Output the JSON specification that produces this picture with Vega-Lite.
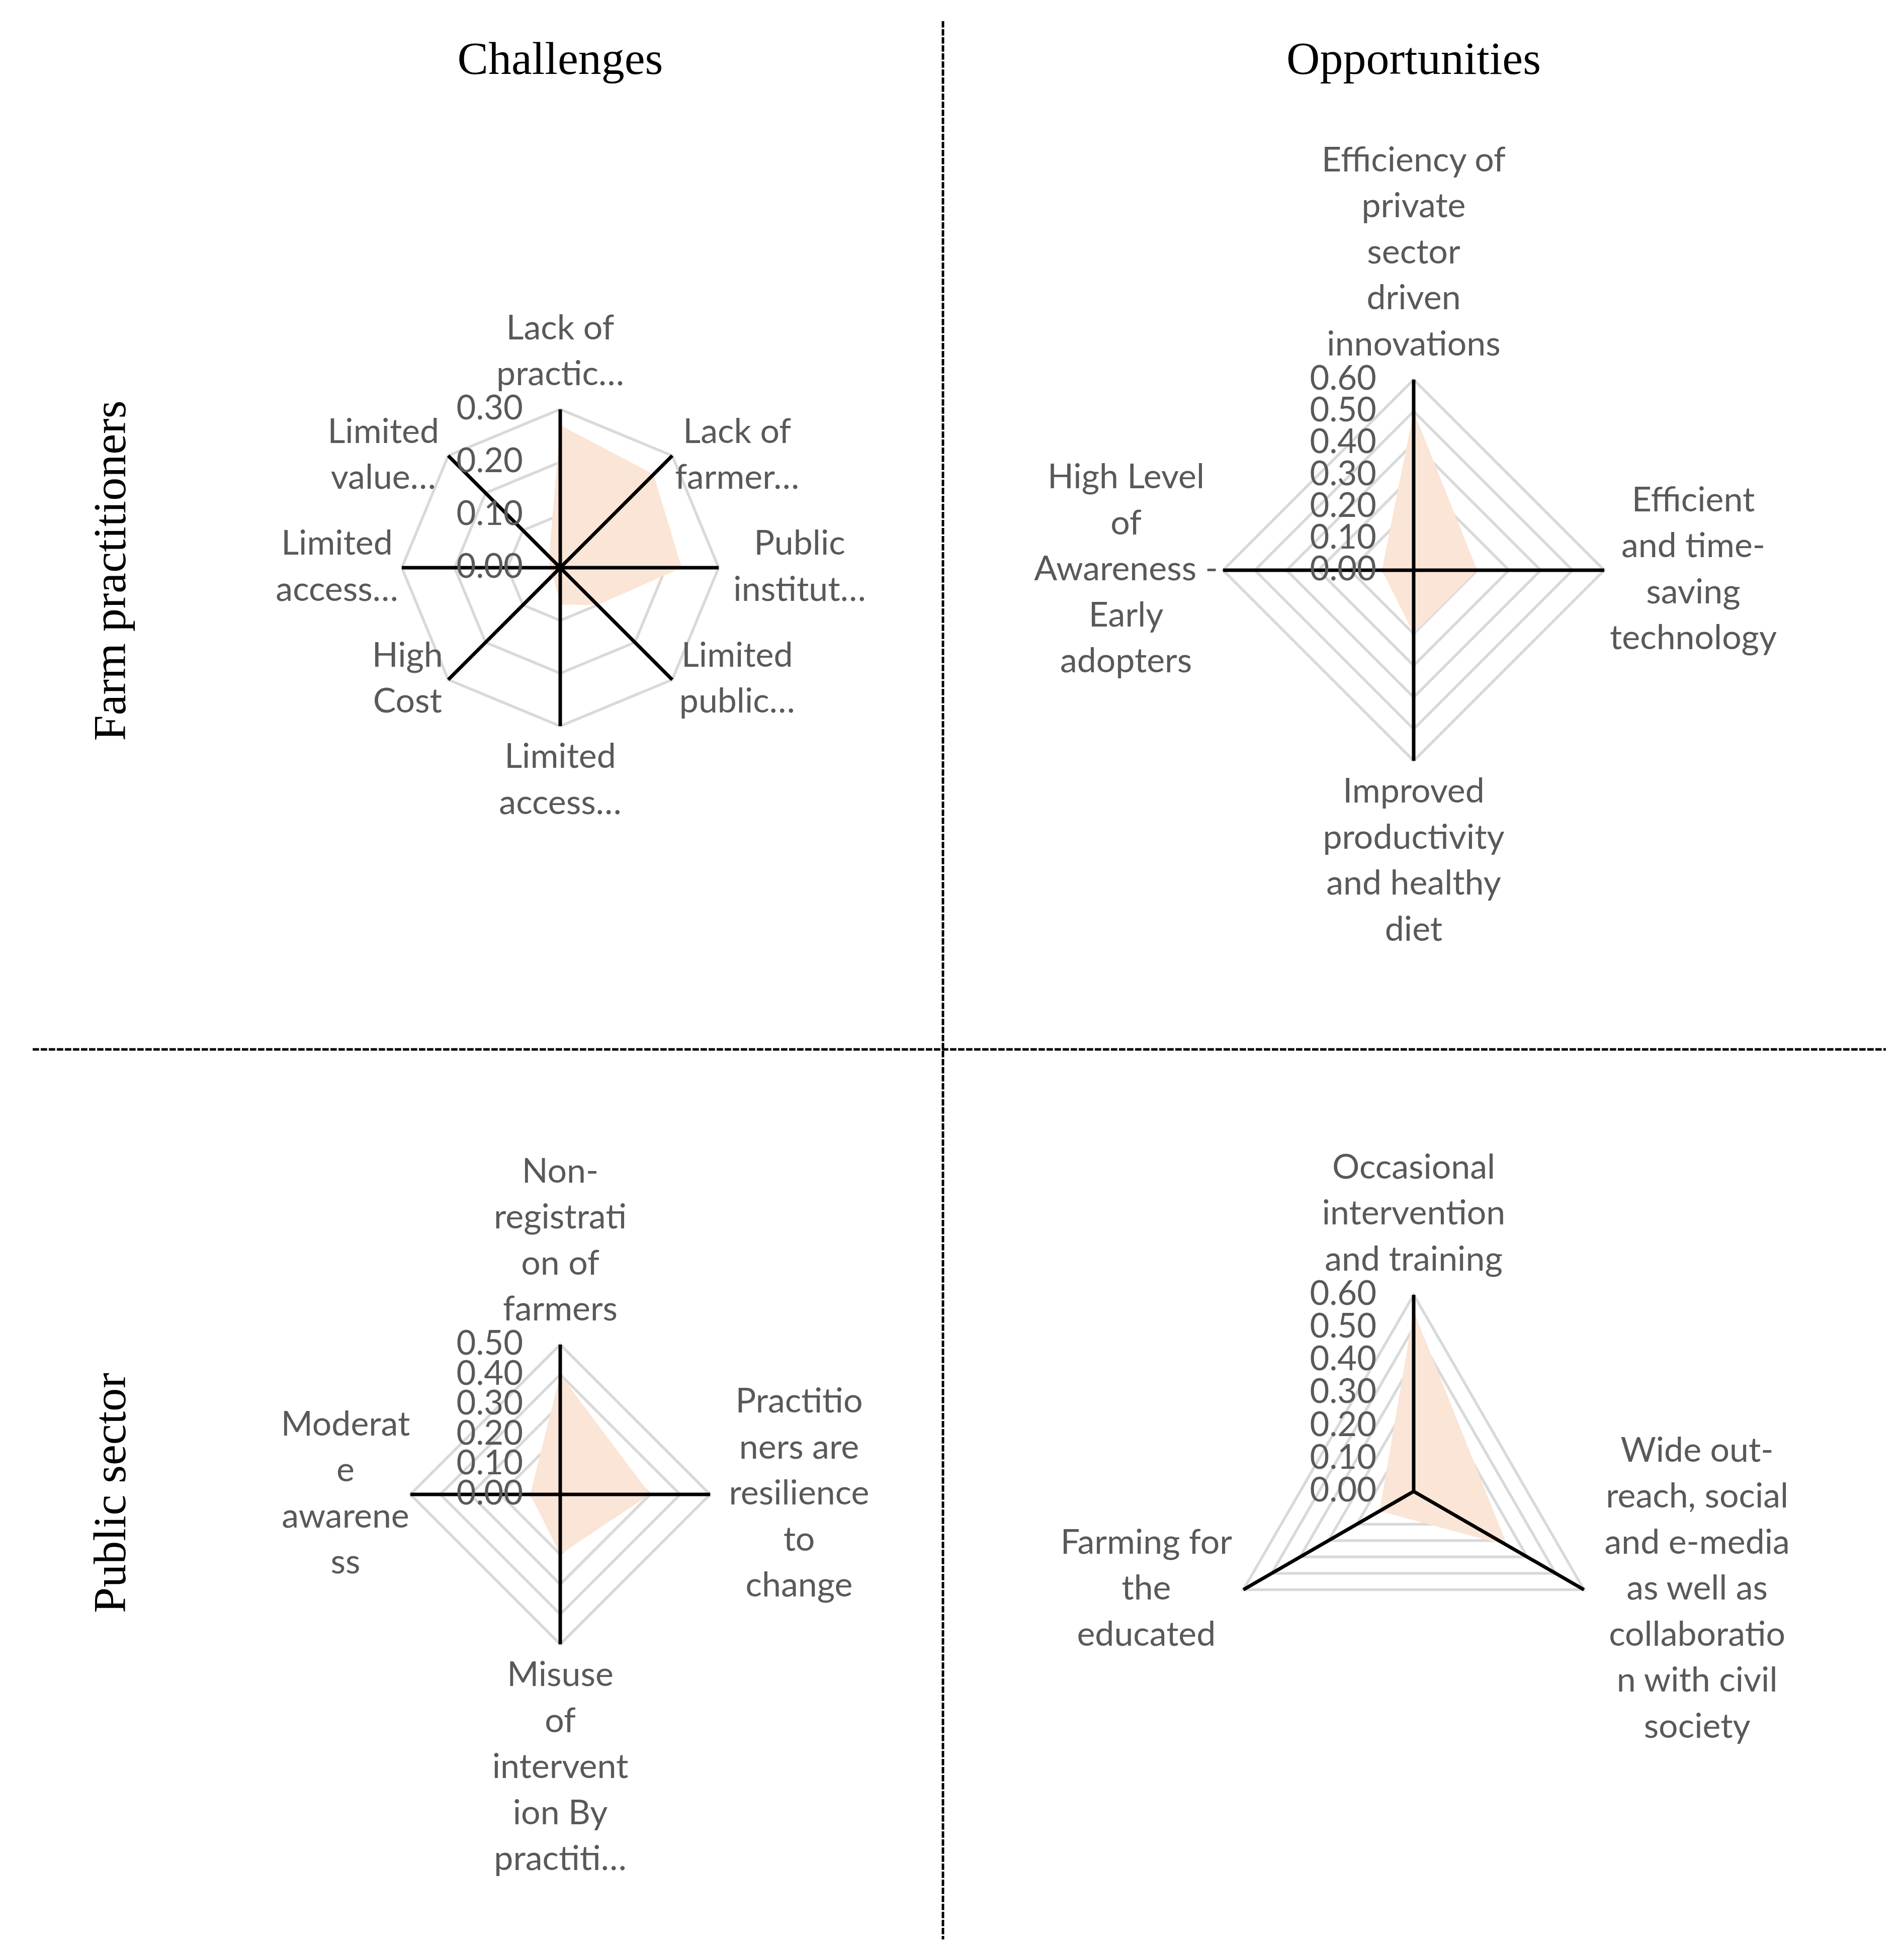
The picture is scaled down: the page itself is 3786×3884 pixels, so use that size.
{
  "$schema": "https://vega.github.io/schema/vega-lite/v6.json",
  "width": 3786,
  "height": 3884,
  "padding": 0,
  "autosize": {"type": "none"},
  "background": "white",
  "config": {
    "view": {"stroke": null},
    "axis": {"disable": true},
    "text": {"font": "Lato", "fontSize": 68, "color": "#595959"}
  },
  "datasets": {
    "tl": [
      {"idx": 0, "label": ["Lack of", "practic…"], "value": 0.27},
      {"idx": 1, "label": ["Lack of", "farmer…"], "value": 0.25},
      {"idx": 2, "label": ["Public", "institut…"], "value": 0.23},
      {"idx": 3, "label": ["Limited", "public…"], "value": 0.10},
      {"idx": 4, "label": ["Limited", "access…"], "value": 0.07},
      {"idx": 5, "label": ["High", "Cost"], "value": 0.02},
      {"idx": 6, "label": ["Limited", "access…"], "value": 0.02},
      {"idx": 7, "label": ["Limited", "value…"], "value": 0.03}
    ],
    "tl_grid": [
      {"level": 0.1, "idx": [0, 1, 2, 3, 4, 5, 6, 7]},
      {"level": 0.2, "idx": [0, 1, 2, 3, 4, 5, 6, 7]},
      {"level": 0.3, "idx": [0, 1, 2, 3, 4, 5, 6, 7]}
    ],
    "tl_ticks": [{"level": 0}, {"level": 0.1}, {"level": 0.2}, {"level": 0.3}],
    "tr": [
      {"idx": 0, "label": ["Efficiency of", "private", "sector", "driven", "innovations"], "value": 0.50},
      {"idx": 1, "label": ["Efficient", "and time-", "saving", "technology"], "value": 0.20},
      {"idx": 2, "label": ["Improved", "productivity", "and healthy", "diet"], "value": 0.20},
      {"idx": 3, "label": ["High Level", "of", "Awareness -", "Early", "adopters"], "value": 0.10}
    ],
    "tr_grid": [
      {"level": 0.1, "idx": [0, 1, 2, 3]},
      {"level": 0.2, "idx": [0, 1, 2, 3]},
      {"level": 0.3, "idx": [0, 1, 2, 3]},
      {"level": 0.4, "idx": [0, 1, 2, 3]},
      {"level": 0.5, "idx": [0, 1, 2, 3]},
      {"level": 0.6, "idx": [0, 1, 2, 3]}
    ],
    "tr_ticks": [{"level": 0}, {"level": 0.1}, {"level": 0.2}, {"level": 0.3}, {"level": 0.4}, {"level": 0.5}, {"level": 0.6}],
    "bl": [
      {"idx": 0, "label": ["Non-", "registrati", "on of", "farmers"], "value": 0.40},
      {"idx": 1, "label": ["Practitio", "ners are", "resilience", "to", "change"], "value": 0.30},
      {"idx": 2, "label": ["Misuse", "of", "intervent", "ion By", "practiti…"], "value": 0.20},
      {"idx": 3, "label": ["Moderat", "e", "awarene", "ss"], "value": 0.10}
    ],
    "bl_grid": [
      {"level": 0.1, "idx": [0, 1, 2, 3]},
      {"level": 0.2, "idx": [0, 1, 2, 3]},
      {"level": 0.3, "idx": [0, 1, 2, 3]},
      {"level": 0.4, "idx": [0, 1, 2, 3]},
      {"level": 0.5, "idx": [0, 1, 2, 3]}
    ],
    "bl_ticks": [{"level": 0}, {"level": 0.1}, {"level": 0.2}, {"level": 0.3}, {"level": 0.4}, {"level": 0.5}],
    "br": [
      {"idx": 0, "label": ["Occasional", "intervention", "and training"], "value": 0.55},
      {"idx": 1, "label": ["Wide out-", "reach, social", "and e-media", "as well as", "collaboratio", "n with civil", "society"], "value": 0.33},
      {"idx": 2, "label": ["Farming for", "the", "educated"], "value": 0.12}
    ],
    "br_grid": [
      {"level": 0.1, "idx": [0, 1, 2]},
      {"level": 0.2, "idx": [0, 1, 2]},
      {"level": 0.3, "idx": [0, 1, 2]},
      {"level": 0.4, "idx": [0, 1, 2]},
      {"level": 0.5, "idx": [0, 1, 2]},
      {"level": 0.6, "idx": [0, 1, 2]}
    ],
    "br_ticks": [{"level": 0}, {"level": 0.1}, {"level": 0.2}, {"level": 0.3}, {"level": 0.4}, {"level": 0.5}, {"level": 0.6}]
  },
  "layer": [
    {
      "data": {"values": [{}]},
      "layer": [
        {
          "mark": {"type": "rule", "color": "black", "strokeWidth": 5, "strokeDash": [12.7, 3.3]},
          "encoding": {
            "x": {"datum": 0.49525, "type": "quantitative", "scale": {"domain": [0, 1], "nice": false, "zero": false}},
            "y": {"datum": 0.01081, "type": "quantitative", "scale": {"domain": [0, 1], "reverse": true, "nice": false, "zero": false}},
            "y2": {"datum": 0.99305}
          }
        },
        {
          "mark": {"type": "rule", "color": "black", "strokeWidth": 5, "strokeDash": [12.7, 3.3]},
          "encoding": {
            "x": {"datum": 0.01717, "type": "quantitative", "scale": {"domain": [0, 1], "nice": false, "zero": false}},
            "x2": {"datum": 0.99049},
            "y": {"datum": 0.53733, "type": "quantitative", "scale": {"domain": [0, 1], "reverse": true, "nice": false, "zero": false}}
          }
        },
        {
          "mark": {"type": "text", "text": "Challenges", "font": "Liberation Serif", "fontSize": 92, "color": "black", "align": "center", "baseline": "middle"},
          "encoding": {
            "x": {"datum": 0.29424, "type": "quantitative", "scale": {"domain": [0, 1], "nice": false, "zero": false}},
            "y": {"datum": 0.03074, "type": "quantitative", "scale": {"domain": [0, 1], "reverse": true, "nice": false, "zero": false}}
          }
        },
        {
          "mark": {"type": "text", "text": "Opportunities", "font": "Liberation Serif", "fontSize": 92, "color": "black", "align": "center", "baseline": "middle"},
          "encoding": {
            "x": {"datum": 0.74247, "type": "quantitative", "scale": {"domain": [0, 1], "nice": false, "zero": false}},
            "y": {"datum": 0.03074, "type": "quantitative", "scale": {"domain": [0, 1], "reverse": true, "nice": false, "zero": false}}
          }
        },
        {
          "mark": {"type": "text", "text": "Farm practitioners", "font": "Liberation Serif", "fontSize": 92, "color": "black", "align": "center", "baseline": "middle", "angle": 270},
          "encoding": {
            "x": {"datum": 0.05837, "type": "quantitative", "scale": {"domain": [0, 1], "nice": false, "zero": false}},
            "y": {"datum": 0.29222, "type": "quantitative", "scale": {"domain": [0, 1], "reverse": true, "nice": false, "zero": false}}
          }
        },
        {
          "mark": {"type": "text", "text": "Public sector", "font": "Liberation Serif", "fontSize": 92, "color": "black", "align": "center", "baseline": "middle", "angle": 270},
          "encoding": {
            "x": {"datum": 0.05837, "type": "quantitative", "scale": {"domain": [0, 1], "nice": false, "zero": false}},
            "y": {"datum": 0.76442, "type": "quantitative", "scale": {"domain": [0, 1], "reverse": true, "nice": false, "zero": false}}
          }
        }
      ]
    },
    {
      "encoding": {
        "x": {"field": "x", "type": "quantitative", "scale": {"domain": [-1.06095, 2.54476], "nice": false, "zero": false}},
        "y": {"field": "y", "type": "quantitative", "scale": {"domain": [-2.62381, 1.07524], "nice": false, "zero": false}}
      },
      "layer": [
        {
          "data": {"name": "tl_grid"},
          "transform": [
            {"calculate": "length(datum.idx)", "as": "n"},
            {"flatten": ["idx"]},
            {"calculate": "datum.level*sin(2*PI*datum.idx/datum.n)", "as": "x"},
            {"calculate": "datum.level*cos(2*PI*datum.idx/datum.n)", "as": "y"}
          ],
          "mark": {"type": "line", "interpolate": "linear-closed", "stroke": "#D9D9D9", "strokeWidth": 5.5},
          "encoding": {"detail": {"field": "level", "type": "nominal"}, "order": {"field": "idx", "type": "quantitative"}}
        },
        {
          "data": {"name": "tl"},
          "transform": [
            {"joinaggregate": [{"op": "count", "as": "n"}]},
            {"calculate": "datum.value*sin(2*PI*datum.idx/datum.n)", "as": "x"},
            {"calculate": "datum.value*cos(2*PI*datum.idx/datum.n)", "as": "y"}
          ],
          "mark": {"type": "line", "interpolate": "linear-closed", "fill": "#FBE5D6", "stroke": "#FBE5D6", "strokeWidth": 0},
          "encoding": {"order": {"field": "idx", "type": "quantitative"}}
        },
        {
          "data": {"name": "tl"},
          "transform": [
            {"joinaggregate": [{"op": "count", "as": "n"}]},
            {"calculate": "0.3*sin(2*PI*datum.idx/datum.n)", "as": "x"},
            {"calculate": "0.3*cos(2*PI*datum.idx/datum.n)", "as": "y"}
          ],
          "mark": {"type": "rule", "color": "black", "strokeWidth": 7},
          "encoding": {"x2": {"datum": 0}, "y2": {"datum": 0}}
        },
        {
          "data": {"name": "tl_ticks"},
          "transform": [{"calculate": "0", "as": "x"}, {"calculate": "datum.level", "as": "y"}],
          "mark": {"type": "text", "align": "right", "baseline": "middle", "dx": -74, "fontSize": 67},
          "encoding": {"text": {"field": "level", "type": "quantitative", "format": ".2f"}}
        },
        {
          "data": {"name": "tl"},
          "transform": [
            {"joinaggregate": [{"op": "count", "as": "n"}]},
            {"calculate": "sin(2*PI*datum.idx/datum.n)", "as": "s"},
            {"calculate": "cos(2*PI*datum.idx/datum.n)", "as": "c"},
            {"calculate": "length(datum.label)", "as": "nl"},
            {"calculate": "max(length(datum.label[0]||''),length(datum.label[1]||''),length(datum.label[2]||''),length(datum.label[3]||''),length(datum.label[4]||''),length(datum.label[5]||''),length(datum.label[6]||''))", "as": "mc"},
            {"calculate": "abs(datum.s) < 0.01 ? 0 : 0.3*datum.s + (datum.s > 0 ? 1 : -1)*(17 + datum.mc*16)/1050", "as": "x"},
            {"calculate": "abs(datum.s) < 0.01 ? (datum.c > 0 ? 0.3 + (68 + (datum.nl-1)*91.5)/1050 : -0.3 - 63/1050) : 0.3*datum.c + (datum.nl-1)*45.75/1050", "as": "y"}
          ],
          "mark": {"type": "text", "align": "center", "baseline": "middle", "lineHeight": 91.5},
          "encoding": {"text": {"field": "label", "type": "nominal"}}
        }
      ]
    },
    {
      "encoding": {
        "x": {"field": "x", "type": "quantitative", "scale": {"domain": [-4.45012, 1.54354], "nice": false, "zero": false}},
        "y": {"field": "y", "type": "quantitative", "scale": {"domain": [-4.35356, 1.79525], "nice": false, "zero": false}}
      },
      "layer": [
        {
          "data": {"name": "tr_grid"},
          "transform": [
            {"calculate": "length(datum.idx)", "as": "n"},
            {"flatten": ["idx"]},
            {"calculate": "datum.level*sin(2*PI*datum.idx/datum.n)", "as": "x"},
            {"calculate": "datum.level*cos(2*PI*datum.idx/datum.n)", "as": "y"}
          ],
          "mark": {"type": "line", "interpolate": "linear-closed", "stroke": "#D9D9D9", "strokeWidth": 5.5},
          "encoding": {"detail": {"field": "level", "type": "nominal"}, "order": {"field": "idx", "type": "quantitative"}}
        },
        {
          "data": {"name": "tr"},
          "transform": [
            {"joinaggregate": [{"op": "count", "as": "n"}]},
            {"calculate": "datum.value*sin(2*PI*datum.idx/datum.n)", "as": "x"},
            {"calculate": "datum.value*cos(2*PI*datum.idx/datum.n)", "as": "y"}
          ],
          "mark": {"type": "line", "interpolate": "linear-closed", "fill": "#FBE5D6", "stroke": "#FBE5D6", "strokeWidth": 0},
          "encoding": {"order": {"field": "idx", "type": "quantitative"}}
        },
        {
          "data": {"name": "tr"},
          "transform": [
            {"joinaggregate": [{"op": "count", "as": "n"}]},
            {"calculate": "0.6*sin(2*PI*datum.idx/datum.n)", "as": "x"},
            {"calculate": "0.6*cos(2*PI*datum.idx/datum.n)", "as": "y"}
          ],
          "mark": {"type": "rule", "color": "black", "strokeWidth": 7},
          "encoding": {"x2": {"datum": 0}, "y2": {"datum": 0}}
        },
        {
          "data": {"name": "tr_ticks"},
          "transform": [{"calculate": "0", "as": "x"}, {"calculate": "datum.level", "as": "y"}],
          "mark": {"type": "text", "align": "right", "baseline": "middle", "dx": -74, "fontSize": 67},
          "encoding": {"text": {"field": "level", "type": "quantitative", "format": ".2f"}}
        },
        {
          "data": {"name": "tr"},
          "transform": [
            {"joinaggregate": [{"op": "count", "as": "n"}]},
            {"calculate": "sin(2*PI*datum.idx/datum.n)", "as": "s"},
            {"calculate": "cos(2*PI*datum.idx/datum.n)", "as": "c"},
            {"calculate": "length(datum.label)", "as": "nl"},
            {"calculate": "max(length(datum.label[0]||''),length(datum.label[1]||''),length(datum.label[2]||''),length(datum.label[3]||''),length(datum.label[4]||''),length(datum.label[5]||''),length(datum.label[6]||''))", "as": "mc"},
            {"calculate": "abs(datum.s) < 0.01 ? 0 : 0.6*datum.s + (datum.s > 0 ? 1 : -1)*(17 + datum.mc*16)/631.667", "as": "x"},
            {"calculate": "abs(datum.s) < 0.01 ? (datum.c > 0 ? 0.6 + (68 + (datum.nl-1)*91.5)/631.667 : -0.6 - 63/631.667) : 0.6*datum.c + (datum.nl-1)*45.75/631.667", "as": "y"}
          ],
          "mark": {"type": "text", "align": "center", "baseline": "middle", "lineHeight": 91.5},
          "encoding": {"text": {"field": "label", "type": "nominal"}}
        }
      ]
    },
    {
      "encoding": {
        "x": {"field": "x", "type": "quantitative", "scale": {"domain": [-1.86913, 4.48322], "nice": false, "zero": false}},
        "y": {"field": "y", "type": "quantitative", "scale": {"domain": [-1.5302, 4.98658], "nice": false, "zero": false}}
      },
      "layer": [
        {
          "data": {"name": "bl_grid"},
          "transform": [
            {"calculate": "length(datum.idx)", "as": "n"},
            {"flatten": ["idx"]},
            {"calculate": "datum.level*sin(2*PI*datum.idx/datum.n)", "as": "x"},
            {"calculate": "datum.level*cos(2*PI*datum.idx/datum.n)", "as": "y"}
          ],
          "mark": {"type": "line", "interpolate": "linear-closed", "stroke": "#D9D9D9", "strokeWidth": 5.5},
          "encoding": {"detail": {"field": "level", "type": "nominal"}, "order": {"field": "idx", "type": "quantitative"}}
        },
        {
          "data": {"name": "bl"},
          "transform": [
            {"joinaggregate": [{"op": "count", "as": "n"}]},
            {"calculate": "datum.value*sin(2*PI*datum.idx/datum.n)", "as": "x"},
            {"calculate": "datum.value*cos(2*PI*datum.idx/datum.n)", "as": "y"}
          ],
          "mark": {"type": "line", "interpolate": "linear-closed", "fill": "#FBE5D6", "stroke": "#FBE5D6", "strokeWidth": 0},
          "encoding": {"order": {"field": "idx", "type": "quantitative"}}
        },
        {
          "data": {"name": "bl"},
          "transform": [
            {"joinaggregate": [{"op": "count", "as": "n"}]},
            {"calculate": "0.5*sin(2*PI*datum.idx/datum.n)", "as": "x"},
            {"calculate": "0.5*cos(2*PI*datum.idx/datum.n)", "as": "y"}
          ],
          "mark": {"type": "rule", "color": "black", "strokeWidth": 7},
          "encoding": {"x2": {"datum": 0}, "y2": {"datum": 0}}
        },
        {
          "data": {"name": "bl_ticks"},
          "transform": [{"calculate": "0", "as": "x"}, {"calculate": "datum.level", "as": "y"}],
          "mark": {"type": "text", "align": "right", "baseline": "middle", "dx": -74, "fontSize": 67},
          "encoding": {"text": {"field": "level", "type": "quantitative", "format": ".2f"}}
        },
        {
          "data": {"name": "bl"},
          "transform": [
            {"joinaggregate": [{"op": "count", "as": "n"}]},
            {"calculate": "sin(2*PI*datum.idx/datum.n)", "as": "s"},
            {"calculate": "cos(2*PI*datum.idx/datum.n)", "as": "c"},
            {"calculate": "length(datum.label)", "as": "nl"},
            {"calculate": "max(length(datum.label[0]||''),length(datum.label[1]||''),length(datum.label[2]||''),length(datum.label[3]||''),length(datum.label[4]||''),length(datum.label[5]||''),length(datum.label[6]||''))", "as": "mc"},
            {"calculate": "abs(datum.s) < 0.01 ? 0 : 0.5*datum.s + (datum.s > 0 ? 1 : -1)*(17 + datum.mc*16)/596", "as": "x"},
            {"calculate": "abs(datum.s) < 0.01 ? (datum.c > 0 ? 0.5 + (68 + (datum.nl-1)*91.5)/596 : -0.5 - 63/596) : 0.5*datum.c + (datum.nl-1)*45.75/596", "as": "y"}
          ],
          "mark": {"type": "text", "align": "center", "baseline": "middle", "lineHeight": 91.5},
          "encoding": {"text": {"field": "label", "type": "nominal"}}
        }
      ]
    },
    {
      "encoding": {
        "x": {"field": "x", "type": "quantitative", "scale": {"domain": [-4.31355, 1.49616], "nice": false, "zero": false}},
        "y": {"field": "y", "type": "quantitative", "scale": {"domain": [-1.4087, 4.55141], "nice": false, "zero": false}}
      },
      "layer": [
        {
          "data": {"name": "br_grid"},
          "transform": [
            {"calculate": "length(datum.idx)", "as": "n"},
            {"flatten": ["idx"]},
            {"calculate": "datum.level*sin(2*PI*datum.idx/datum.n)", "as": "x"},
            {"calculate": "datum.level*cos(2*PI*datum.idx/datum.n)", "as": "y"}
          ],
          "mark": {"type": "line", "interpolate": "linear-closed", "stroke": "#D9D9D9", "strokeWidth": 5.5},
          "encoding": {"detail": {"field": "level", "type": "nominal"}, "order": {"field": "idx", "type": "quantitative"}}
        },
        {
          "data": {"name": "br"},
          "transform": [
            {"joinaggregate": [{"op": "count", "as": "n"}]},
            {"calculate": "datum.value*sin(2*PI*datum.idx/datum.n)", "as": "x"},
            {"calculate": "datum.value*cos(2*PI*datum.idx/datum.n)", "as": "y"}
          ],
          "mark": {"type": "line", "interpolate": "linear-closed", "fill": "#FBE5D6", "stroke": "#FBE5D6", "strokeWidth": 0},
          "encoding": {"order": {"field": "idx", "type": "quantitative"}}
        },
        {
          "data": {"name": "br"},
          "transform": [
            {"joinaggregate": [{"op": "count", "as": "n"}]},
            {"calculate": "0.6*sin(2*PI*datum.idx/datum.n)", "as": "x"},
            {"calculate": "0.6*cos(2*PI*datum.idx/datum.n)", "as": "y"}
          ],
          "mark": {"type": "rule", "color": "black", "strokeWidth": 7},
          "encoding": {"x2": {"datum": 0}, "y2": {"datum": 0}}
        },
        {
          "data": {"name": "br_ticks"},
          "transform": [{"calculate": "0", "as": "x"}, {"calculate": "datum.level", "as": "y"}],
          "mark": {"type": "text", "align": "right", "baseline": "middle", "dx": -74, "fontSize": 67},
          "encoding": {"text": {"field": "level", "type": "quantitative", "format": ".2f"}}
        },
        {
          "data": {"name": "br"},
          "transform": [
            {"joinaggregate": [{"op": "count", "as": "n"}]},
            {"calculate": "sin(2*PI*datum.idx/datum.n)", "as": "s"},
            {"calculate": "cos(2*PI*datum.idx/datum.n)", "as": "c"},
            {"calculate": "length(datum.label)", "as": "nl"},
            {"calculate": "max(length(datum.label[0]||''),length(datum.label[1]||''),length(datum.label[2]||''),length(datum.label[3]||''),length(datum.label[4]||''),length(datum.label[5]||''),length(datum.label[6]||''))", "as": "mc"},
            {"calculate": "abs(datum.s) < 0.01 ? 0 : 0.6*datum.s + (datum.s > 0 ? 1 : -1)*(17 + datum.mc*16)/651.667", "as": "x"},
            {"calculate": "abs(datum.s) < 0.01 ? (datum.c > 0 ? 0.6 + (68 + (datum.nl-1)*91.5)/651.667 : -0.6 - 63/651.667) : 0.6*datum.c + (datum.nl-1)*45.75/651.667", "as": "y"}
          ],
          "mark": {"type": "text", "align": "center", "baseline": "middle", "lineHeight": 91.5},
          "encoding": {"text": {"field": "label", "type": "nominal"}}
        }
      ]
    }
  ],
  "resolve": {"scale": {"x": "independent", "y": "independent"}}
}
